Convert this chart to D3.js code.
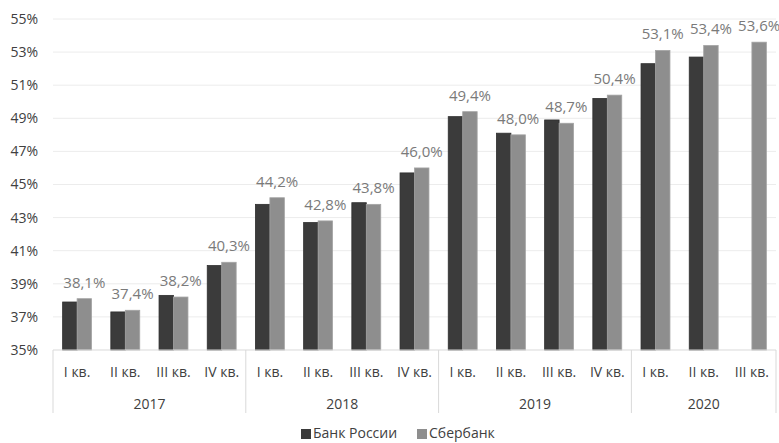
<!DOCTYPE html>
<html>
<head>
<meta charset="utf-8">
<script src="https://cdn.jsdelivr.net/npm/d3@7"></script>
<style>
  body { margin: 0; background: #fff; }
  text { font-family: "Open Sans", sans-serif; }
</style>
</head>
<body>
<div id="chart"></div>
<script>
const quarters = ["I кв.", "II кв.", "III кв.", "IV кв.",
                  "I кв.", "II кв.", "III кв.", "IV кв.",
                  "I кв.", "II кв.", "III кв.", "IV кв.",
                  "I кв.", "II кв.", "III кв."];
const years = ["2017", "2018", "2019", "2020"];
const quartersPerYear = [4, 4, 4, 3];
const seriesNames = ["Банк России", "Сбербанк"];
const bankRussia = [37.9, 37.3, 38.3, 40.1, 43.8, 42.7, 43.9, 45.7, 49.1, 48.1, 48.9, 50.2, 52.3, 52.7, null];
const sberbank = [38.1, 37.4, 38.2, 40.3, 44.2, 42.8, 43.8, 46.0, 49.4, 48.0, 48.7, 50.4, 53.1, 53.4, 53.6];
const yTicks = [35, 37, 39, 41, 43, 45, 47, 49, 51, 53, 55];

const WIDTH = 779, HEIGHT = 443;
const mLeft = 53, mRight = 776, mTop = 19, mBottom = 350;
const colors = ["#3b3b3b", "#8e8e8e"];
const strokes = ["#2f2f2f", "#a3a3a3"];

const svg = d3.select("#chart").append("svg")
    .attr("width", WIDTH)
    .attr("height", HEIGHT);

const idx = quarters.map((q, i) => i);
const x0 = d3.scaleBand().domain(idx).range([mLeft, mRight]).paddingInner(0.4).paddingOuter(0.2);
const x1 = d3.scaleBand().domain([0, 1]).range([0, x0.bandwidth()]);
const y = d3.scaleLinear().domain([35, 55]).range([mBottom, mTop]);

// gridlines
svg.append("g").selectAll("line")
    .data(yTicks.slice(1))
    .join("line")
    .attr("x1", mLeft).attr("x2", mRight)
    .attr("y1", d => y(d)).attr("y2", d => y(d))
    .attr("stroke", "#ececec").attr("stroke-width", 1);

// y axis labels
svg.append("g").selectAll("text")
    .data(yTicks)
    .join("text")
    .attr("x", 38).attr("y", d => y(d))
    .attr("dy", "0.35em")
    .attr("text-anchor", "end")
    .attr("font-size", 14)
    .attr("fill", "#404040")
    .text(d => d + "%");

// bars
const series = [bankRussia, sberbank];
series.forEach((vals, s) => {
    svg.append("g").selectAll("rect")
        .data(idx.filter(i => vals[i] != null))
        .join("rect")
        .attr("x", i => x0(i) + x1(s))
        .attr("y", i => y(vals[i]))
        .attr("width", x1.bandwidth())
        .attr("height", i => y(35) - y(vals[i]))
        .attr("fill", colors[s])
        .attr("stroke", strokes[s])
        .attr("stroke-width", 0.8);
});

// value labels (Сбербанк)
svg.append("g").selectAll("text")
    .data(idx)
    .join("text")
    .attr("x", i => x0(i) + x1(1) + x1.bandwidth() / 2)
    .attr("y", i => y(sberbank[i]) - 11)
    .attr("text-anchor", "middle")
    .attr("font-size", 15)
    .attr("fill", "#7a7a7a")
    .text(i => sberbank[i].toFixed(1).replace(".", ",") + "%");

// category axis
const axisG = svg.append("g");
axisG.append("line")
    .attr("x1", mLeft).attr("x2", mRight)
    .attr("y1", mBottom).attr("y2", mBottom)
    .attr("stroke", "#d9d9d9");

axisG.selectAll("text.q")
    .data(idx)
    .join("text")
    .attr("class", "q")
    .attr("x", i => x0(i) + x0.bandwidth() / 2)
    .attr("y", 377)
    .attr("text-anchor", "middle")
    .attr("font-size", 14)
    .attr("fill", "#404040")
    .text(i => quarters[i]);

let start = 0;
const bounds = [mLeft];
const yearPos = [];
quartersPerYear.forEach(n => {
    const a = start === 0 ? mLeft : x0(start) - x0.step() * x0.paddingInner() / 2;
    const endIdx = start + n - 1;
    const b = endIdx === quarters.length - 1 ? mRight : x0(endIdx) + x0.bandwidth() + x0.step() * x0.paddingInner() / 2;
    yearPos.push((a + b) / 2);
    bounds.push(b);
    start += n;
});

axisG.selectAll("line.sep")
    .data(bounds)
    .join("line")
    .attr("class", "sep")
    .attr("x1", d => d).attr("x2", d => d)
    .attr("y1", mBottom).attr("y2", 413)
    .attr("stroke", "#d9d9d9");

axisG.selectAll("text.yr")
    .data(years)
    .join("text")
    .attr("class", "yr")
    .attr("x", (d, i) => yearPos[i])
    .attr("y", 409)
    .attr("text-anchor", "middle")
    .attr("font-size", 14)
    .attr("fill", "#404040")
    .text(d => d);

// legend
const legend = svg.append("g");
const legX = [301, 417];
seriesNames.forEach((name, s) => {
    legend.append("rect")
        .attr("x", legX[s]).attr("y", 429)
        .attr("width", 10).attr("height", 10)
        .attr("fill", colors[s]);
    legend.append("text")
        .attr("x", legX[s] + 12).attr("y", 433)
        .attr("dy", "0.35em")
        .attr("font-size", 14)
        .attr("fill", "#404040")
        .text(name);
});
</script>
</body>
</html>
